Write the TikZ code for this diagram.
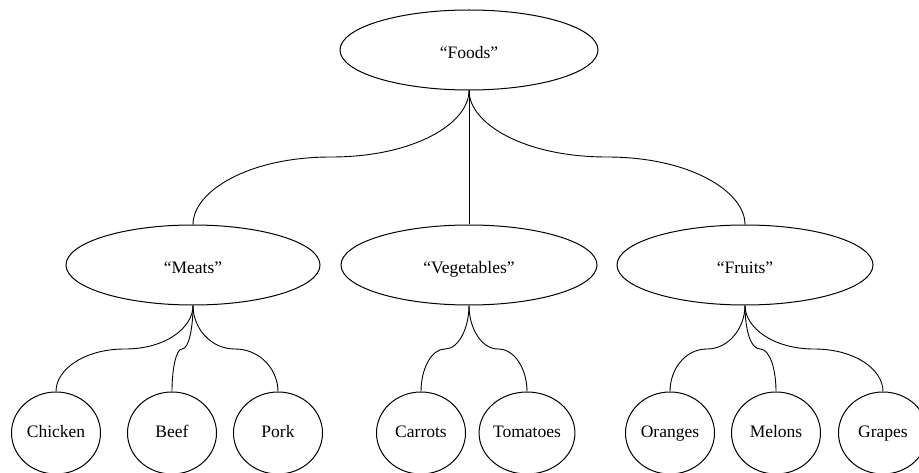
\documentclass[tikz,border=0pt]{standalone}
\usepackage{fontspec}
\setmainfont{Liberation Serif}
\usetikzlibrary{shapes.geometric}
\begin{document}
\begin{tikzpicture}[x=1pt,y=-1pt,
  every node/.style={font=\fontsize{17.5}{20}\selectfont},
  category/.style={ellipse, draw, line width=1pt, minimum width=256pt, minimum height=80pt,
    inner sep=0pt, text height=17.6pt, text depth=0pt},
  item/.style={ellipse, draw, line width=1pt, minimum width=89pt, minimum height=82pt,
    inner sep=0pt, text height=9.6pt, text depth=0pt},
  link/.style={line width=0.9pt}]
\useasboundingbox (0,0) rectangle (919,473);

% root and the three categories
\node[category, minimum width=258pt] (foods) at (469,50) {“Foods”};
\node[category, minimum width=254pt] (meats) at (193,265) {“Meats”};
\node[category] (veg) at (469,265) {“Vegetables”};
\node[category] (fruits) at (745,265) {“Fruits”};

% leaves
\node[item] (chicken)  at (56,433)  {Chicken};
\node[item] (beef)     at (172,433) {Beef};
\node[item] (pork)     at (278,433) {Pork};
\node[item] (carrots)  at (421,433) {Carrots};
\node[item] (tomatoes) at (527,433) {Tomatoes};
\node[item] (oranges)  at (670,433) {Oranges};
\node[item] (melons)   at (776,433) {Melons};
\node[item] (grapes)   at (883,433) {Grapes};

% bend points of the spline edges
\coordinate (kmeats)    at (331,157);
\coordinate (kfruits)   at (607,157);
\coordinate (kchicken)  at (125,349);
\coordinate (kbeef)     at (182,349);
\coordinate (kpork)     at (235,349);
\coordinate (kcarrots)  at (445,349);
\coordinate (ktomatoes) at (498,349);
\coordinate (koranges)  at (707,349);
\coordinate (kmelons)   at (760,349);
\coordinate (kgrapes)   at (814,349);

% edges from the root
\draw[link] (foods.south) .. controls +(0,33) and +(83,0) .. (kmeats)
  .. controls +(-83,0) and +(0,-33) .. (meats.north);
\draw[link] (foods.south) -- (veg.north);
\draw[link] (foods.south) .. controls +(0,33) and +(-83,0) .. (kfruits)
  .. controls +(83,0) and +(0,-33) .. (fruits.north);

% edges to the leaves
\draw[link] (meats.south) .. controls +(0,22) and +(41,0) .. (kchicken)
  .. controls +(-41,0) and +(0,-22) .. (chicken.north);
\draw[link] (meats.south) .. controls +(0,22) and +(7,0) .. (kbeef)
  .. controls +(-6,0) and +(0,-22) .. (beef.north);
\draw[link] (meats.south) .. controls +(0,22) and +(-25,0) .. (kpork)
  .. controls +(25,0) and +(0,-22) .. (pork.north);
\draw[link] (veg.south) .. controls +(0,22) and +(14,0) .. (kcarrots)
  .. controls +(-14,0) and +(0,-22) .. (carrots.north);
\draw[link] (veg.south) .. controls +(0,22) and +(-17,0) .. (ktomatoes)
  .. controls +(17,0) and +(0,-22) .. (tomatoes.north);
\draw[link] (fruits.south) .. controls +(0,22) and +(22,0) .. (koranges)
  .. controls +(-22,0) and +(0,-22) .. (oranges.north);
\draw[link] (fruits.south) .. controls +(0,22) and +(-10,0) .. (kmelons)
  .. controls +(10,0) and +(0,-22) .. (melons.north);
\draw[link] (fruits.south) .. controls +(0,22) and +(-41,0) .. (kgrapes)
  .. controls +(41,0) and +(0,-22) .. (grapes.north);
\end{tikzpicture}
\end{document}
